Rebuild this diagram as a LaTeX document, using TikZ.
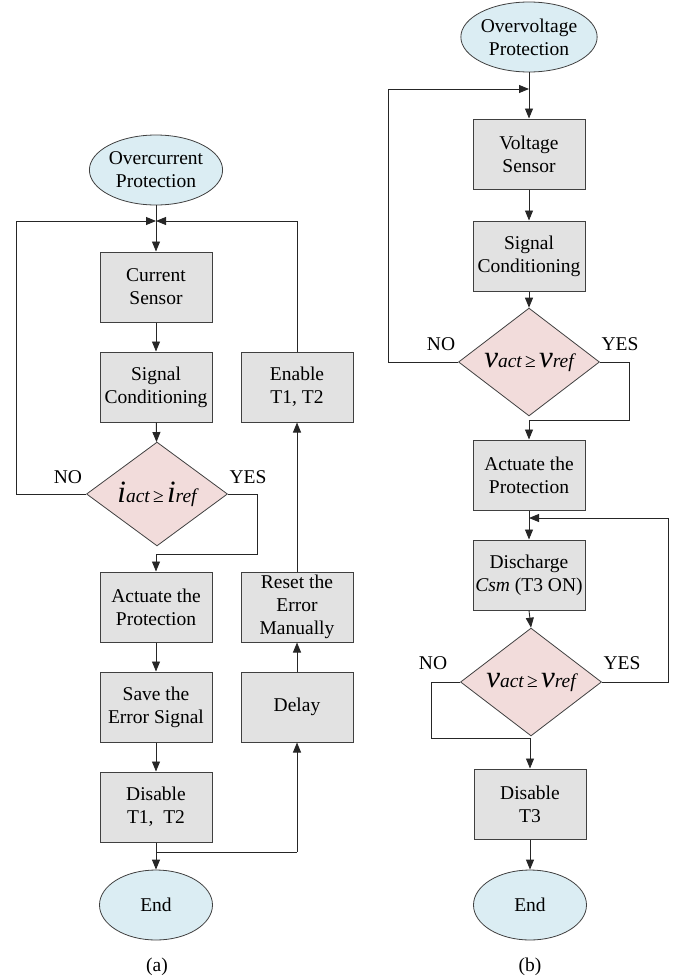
\documentclass[tikz,border=0pt]{standalone}
\usepackage{fontspec}
\setmainfont{Liberation Serif}[Ligatures=TeX]
\usetikzlibrary{shapes.geometric,arrows.meta}
\definecolor{boxfill}{HTML}{E2E2E2}
\definecolor{ellfill}{HTML}{DBEDF3}
\definecolor{diafill}{HTML}{F2DCDB}
\definecolor{edge}{HTML}{404040}
\newcommand{\bigi}[1]{{\fontsize{31}{31}\selectfont\itshape #1}}
\newcommand{\cmpv}[2]{\bigi{#1}{\itshape act}\,≥\,\bigi{#2}{\itshape ref}}
\begin{document}
\begin{tikzpicture}[x=1pt,y=-1pt,
  every node/.style={font=\rmfamily\fontsize{19.5}{23}\selectfont},
  procbox/.style={draw=edge,line width=1pt,fill=boxfill,rectangle,minimum width=112pt,minimum height=70pt,inner sep=0pt,align=center},
  termnode/.style={draw=edge,line width=0.8pt,fill=ellfill,ellipse,minimum width=113pt,minimum height=70pt,inner sep=0pt,align=center},
  decnode/.style={draw=edge,line width=0.8pt,fill=diafill,diamond,minimum width=141pt,minimum height=84pt,inner sep=0pt,align=center},
  lbl/.style={inner sep=0pt},
  conn/.style={draw=black!85,line width=0.9pt},
  arr/.style={conn,-{Triangle[length=10pt,width=8pt]}}]
\useasboundingbox (0,0) rectangle (684,980);
% ---------------- (a) ----------------
\node[termnode] (oc) at (156,170) {Overcurrent\\Protection};
\node[procbox] (cs) at (156,287) {Current\\Sensor};
\node[procbox] (sc1) at (156,387) {Signal\\Conditioning};
\node[decnode] (d1) at (157,494) {\cmpv{i}{i}};
\node[procbox] (act1) at (156,607) {Actuate the\\Protection};
\node[procbox] (save) at (156,707) {Save the\\Error Signal};
\node[procbox] (dis1) at (156,807) {Disable\\T1,\ \ T2};
\node[termnode] (end1) at (156,905) {End};
\node[procbox] (en) at (297,387) {Enable\\T1, T2};
\node[procbox] (reset) at (297,607) {Reset the\\Error\\Manually};
\node[procbox] (delay) at (297,707) {Delay};
\node[lbl] (no1) at (68,477) {NO};
\node[lbl] (yes1) at (248,477) {YES};
\node[lbl] (capa) at (157,967) {(a)};
\coordinate (jA) at (156,221);
\coordinate (jAl) at (16,221);
\coordinate (jAr) at (297,221);
\coordinate (y1a) at (257,494);
\coordinate (y1b) at (257,554);
\coordinate (y1c) at (156,554);
\coordinate (jE) at (156,852);
\coordinate (jEr) at (297,852);
\draw[arr] (oc) -- (cs);
\draw[arr] (cs) -- (sc1);
\draw[arr] (sc1) -- (d1);
\draw[conn] (d1.west) -- (16,494) -- (jAl);
\draw[arr] (jAl) -- (jA);
\draw[conn] (en.north) -- (jAr);
\draw[arr] (jAr) -- (jA);
\draw[conn] (d1.east) -- (y1a) -- (y1b) -- (y1c);
\draw[arr] (y1c) -- (act1.north);
\draw[arr] (act1) -- (save);
\draw[arr] (save) -- (dis1);
\draw[arr] (dis1) -- (end1);
\draw[conn] (jE) -- (jEr);
\draw[arr] (jEr) -- (delay.south);
\draw[arr] (delay) -- (reset);
\draw[arr] (reset) -- (en);
% ---------------- (b) ----------------
\node[termnode] (ov) at (529,37) {Overvoltage\\Protection};
\node[procbox] (vs) at (529,154) {Voltage\\Sensor};
\node[procbox] (sc2) at (529,256) {Signal\\Conditioning};
\node[decnode] (d2) at (529,362) {\cmpv{v}{v}};
\node[procbox] (act2) at (529,475) {Actuate the\\Protection};
\node[procbox] (dc) at (529,575) {Discharge\\{\itshape Csm} (T3 ON)};
\node[decnode] (d3) at (531,682) {\cmpv{v}{v}};
\node[procbox] (dis3) at (530,804) {Disable\\T3};
\node[termnode] (end2) at (530,905) {End};
\node[lbl] (no2) at (441,344) {NO};
\node[lbl] (yes2) at (620,344) {YES};
\node[lbl] (no3) at (433,663) {NO};
\node[lbl] (yes3) at (622,663) {YES};
\node[lbl] (capb) at (530,967) {(b)};
\coordinate (jB) at (529,89);
\coordinate (jBl) at (388,89);
\coordinate (y2a) at (629,362);
\coordinate (y2b) at (629,420);
\coordinate (y2c) at (529,420);
\coordinate (jC) at (529,518);
\coordinate (jCr) at (668,518);
\coordinate (n3a) at (431,682);
\coordinate (n3b) at (431,738);
\coordinate (n3c) at (530,738);
\draw[arr] (ov) -- (vs);
\draw[arr] (vs) -- (sc2);
\draw[arr] (sc2) -- (d2);
\draw[conn] (d2.west) -- (388,362) -- (jBl);
\draw[arr] (jBl) -- (jB);
\draw[conn] (d2.east) -- (y2a) -- (y2b) -- (y2c);
\draw[arr] (y2c) -- (act2.north);
\draw[arr] (act2) -- (dc);
\draw[arr] (dc.south) -- (d3.north);
\draw[conn] (d3.east) -- (668,682) -- (jCr);
\draw[arr] (jCr) -- (jC);
\draw[conn] (d3.west) -- (n3a) -- (n3b) -- (n3c);
\draw[arr] (n3c) -- (dis3.north);
\draw[arr] (dis3) -- (end2);
\end{tikzpicture}
\end{document}
